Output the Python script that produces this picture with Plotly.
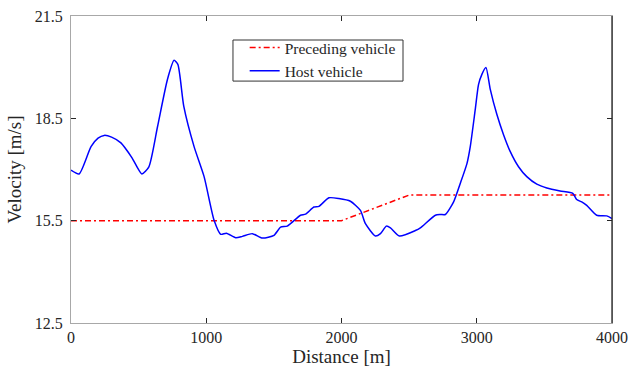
import plotly.graph_objects as go

# Preceding vehicle profile
prec_d = [0, 2000, 2500, 4000]
prec_v = [15.5, 15.5, 16.25, 16.25]

# Host vehicle profile
host_d = [0, 60, 148, 200, 245, 300, 369, 450, 524, 576, 640, 713, 762, 790, 834, 910, 984,
          1058, 1107, 1149, 1218, 1267, 1341, 1415, 1501, 1550, 1599, 1697, 1734, 1796,
          1833, 1907, 1980, 2066, 2140, 2177, 2251, 2288, 2332, 2362, 2428, 2546, 2583,
          2694, 2731, 2768, 2829, 2878, 2928, 2952, 2989, 3013, 3038, 3068, 3100, 3149,
          3198, 3247, 3309, 3370, 3444, 3518, 3616, 3710, 3739, 3776, 3813, 3887, 3961, 4000]
host_v = [16.98, 16.87, 17.67, 17.92, 18.0, 17.95, 17.78, 17.35, 16.87, 17.08, 18.26, 19.64,
          20.2, 20.08, 18.85, 17.67, 16.79, 15.51, 15.1, 15.13, 15.0, 15.04, 15.12, 14.99,
          15.07, 15.31, 15.34, 15.66, 15.69, 15.9, 15.92, 16.17, 16.15, 16.07, 15.8, 15.41,
          15.05, 15.12, 15.34, 15.29, 15.05, 15.21, 15.29, 15.66, 15.68, 15.68, 16.05, 16.59,
          17.18, 17.67, 18.76, 19.49, 19.79, 19.99, 19.35, 18.61, 18.02, 17.53, 17.08,
          16.79, 16.57, 16.46, 16.37, 16.3, 16.12, 16.05, 15.95, 15.66, 15.64, 15.56]

x_ticks = [0, 1000, 2000, 3000, 4000]
y_ticks = [12.5, 15.5, 18.5, 21.5]

font_family = "Liberation Serif"

fig = go.Figure()
fig.add_trace(go.Scatter(x=prec_d, y=prec_v, mode="lines", name="Preceding vehicle",
                         line=dict(color="#ff0000", width=1.5, dash="6px,3px,2px,3px")))
fig.add_trace(go.Scatter(x=host_d, y=host_v, mode="lines", name="Host vehicle",
                         line=dict(color="#0000ff", width=1.5, shape="spline", smoothing=0.6)))

axis_common = dict(showgrid=False, zeroline=False, showline=True, linecolor="#a8a8a8",
                   linewidth=1.3, mirror="ticks", ticks="inside", ticklen=5, tickcolor="#262626",
                   tickwidth=1, automargin=False,
                   tickfont=dict(family=font_family, size=16, color="#262626"))

fig.update_layout(
    width=630, height=371,
    margin=dict(l=71, r=18, t=16, b=48),
    paper_bgcolor="white", plot_bgcolor="white",
    font=dict(family=font_family, color="#262626"),
    xaxis=dict(range=[0, 4000], tickvals=x_ticks,
               title=dict(text="Distance [m]", font=dict(size=19), standoff=0),
               **axis_common),
    yaxis=dict(range=[12.5, 21.5], tickvals=y_ticks, ticktext=[str(v) for v in y_ticks],
               title=dict(text="Velocity [m/s]", font=dict(size=19), standoff=8),
               ticklabelstandoff=4, **axis_common),
    legend=dict(x=0.321, y=0.951, xanchor="left", yanchor="top", bgcolor="rgba(0,0,0,0)",
                borderwidth=0, font=dict(family=font_family, size=15.5),
                tracegroupgap=0),
    showlegend=True,
    shapes=[dict(type="line", xref="paper", yref="paper", x0=1, x1=1, y0=0, y1=1,
                 line=dict(color="#262626", width=1.3)),
            dict(type="rect", xref="paper", yref="paper", x0=0.2994, x1=0.6137,
                 y0=0.788, y1=0.9218, layer="above", fillcolor="white",
                 line=dict(color="#333333", width=1))],
)

fig.write_html("out.html")
